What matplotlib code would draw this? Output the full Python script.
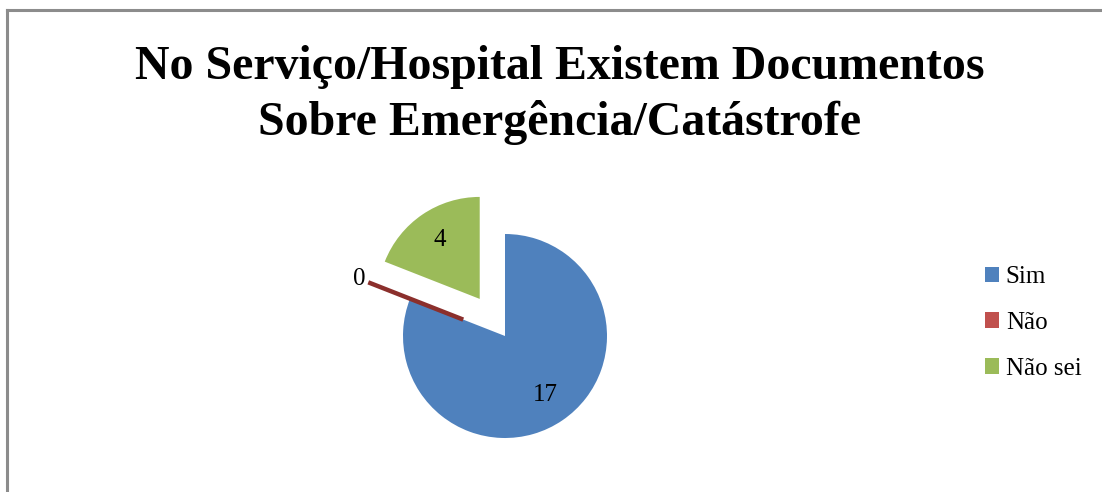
import numpy as np
import matplotlib.pyplot as plt
from matplotlib.lines import Line2D
from matplotlib.patches import Patch

# dados
categorias = ['Sim', 'Não', 'Não sei']
valores = [17, 0, 4]
cores = ['#4F81BD', '#C0504D', '#9BBB59']
titulo = 'No Serviço/Hospital Existem Documentos\nSobre Emergência/Catástrofe'

plt.rcParams['font.family'] = ['Liberation Serif', 'DejaVu Serif']

W, H = 1102, 492
fig = plt.figure(figsize=(W / 100, H / 100), dpi=100)

# moldura (cinza, só topo e esquerda visíveis)
fig.add_artist(Line2D([7 / W, 7 / W], [0, 1 - 10 / H], color='#8c8c8c', lw=2.2,
                      transform=fig.transFigure))
fig.add_artist(Line2D([7 / W, 1], [1 - 10 / H, 1 - 10 / H], color='#8c8c8c', lw=2.2,
                      transform=fig.transFigure))

fig.text(560 / W, 1 - 95 / H, titulo, ha='center', va='center', fontsize=34.5,
         fontweight='bold', linespacing=1.32)

# pizza
cx, cy, r = 505, 336, 102
lado = 1.5 * r
ax = fig.add_axes([(cx - lado) / W, (H - cy - lado) / H, 2 * lado / W, 2 * lado / H])
wedges, _ = ax.pie(valores, colors=cores, startangle=90, counterclock=False,
                   explode=[0, 0.44, 0.44], radius=1)
ax.set_xlim(-1.5, 1.5)
ax.set_ylim(-1.5, 1.5)
ax.set_aspect('equal')
ax.axis('off')

# fatia zero aparece como um traço
wedges[1].set_edgecolor('#8B2F2C')
wedges[1].set_linewidth(3.2)

for w, v in zip(wedges, valores):
    ang = np.deg2rad((w.theta1 + w.theta2) / 2)
    d = 0.7 if v > 0 else 1.1
    x = w.center[0] + d * np.cos(ang)
    y = w.center[1] + d * np.sin(ang)
    ax.text(x, y, str(v), ha='center', va='center', fontsize=18)

handles = [Patch(facecolor=c, edgecolor='none') for c in cores]
fig.legend(handles, categorias, loc='center left', bbox_to_anchor=(985 / W, 1 - 323 / H),
           frameon=False, fontsize=18, handlelength=0.58, handleheight=0.58,
           handletextpad=0.25, labelspacing=0.95, borderpad=0, borderaxespad=0)

fig.savefig('out.png', dpi=100)
